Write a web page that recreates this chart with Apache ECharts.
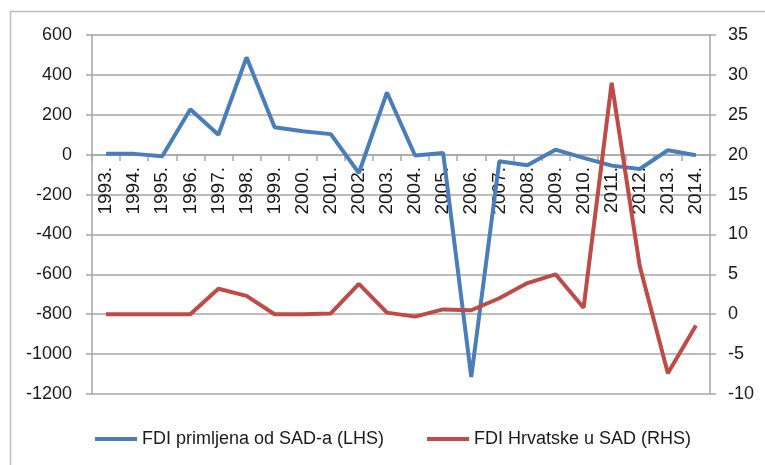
<!DOCTYPE html>
<html>
<head>
<meta charset="utf-8">
<script src="https://cdn.jsdelivr.net/npm/echarts@6/dist/echarts.min.js"></script>
<style>
  html, body { margin: 0; padding: 0; background: #fff; }
  #chart { width: 765px; height: 465px; }
</style>
</head>
<body>
<div id="chart"></div>
<script>
// data
const years = ['1993.', '1994.', '1995.', '1996.', '1997.', '1998.', '1999.', '2000.', '2001.', '2002.', '2003.',
  '2004.', '2005.', '2006.', '2007.', '2008.', '2009.', '2010.', '2011.', '2012.', '2013.', '2014.'];
const fdiFromUS = [5, 4, -8, 228, 100, 488, 137, 117, 103, -92, 312,
  -4, 8, -1115, -33, -53, 25, -16, -55, -72, 22, -3];
const fdiCroatiaToUS = [0, 0, 0, 0, 3.2, 2.3, 0, 0, 0.1, 3.8, 0.2,
  -0.3, 0.6, 0.5, 2.0, 3.9, 5.0, 0.8, 29.0, 6.0, -7.4, -1.4];
const seriesNames = ['FDI primljena od SAD-a (LHS)', 'FDI Hrvatske u SAD (RHS)'];

const font = '"Liberation Sans", Arial, sans-serif';
const textColor = '#1a1a1a';
const gridColor = '#a6a6a6';

const chart = echarts.init(document.getElementById('chart'));
chart.setOption({
  animation: false,
  textStyle: { fontFamily: font },
  graphic: [{
    type: 'rect',
    shape: { x: 10.5, y: 11.5, width: 800, height: 500 },
    style: { fill: 'none', stroke: '#bdbdbd', lineWidth: 1.5 },
    silent: true
  }],
  grid: { left: 92, right: 55, top: 35, bottom: 71 },
  legend: {
    left: 95,
    top: 430,
    padding: 0,
    itemGap: 43,
    itemWidth: 42,
    itemHeight: 4,
    icon: 'rect',
    textStyle: { fontSize: 18, color: textColor, fontFamily: font },
    data: seriesNames
  },
  xAxis: {
    type: 'category',
    data: years,
    boundaryGap: true,
    // category axis sits on the LHS zero line (9 steps of 40px, zero is 6 steps up)
    offset: -239,
    axisLine: { onZero: false, lineStyle: { color: gridColor, width: 1.5 } },
    axisTick: { show: true, interval: 0, length: 6, lineStyle: { color: gridColor, width: 1.5 } },
    axisLabel: {
      interval: 0,
      rotate: 90,
      margin: 12,
      fontSize: 19,
      color: textColor,
      fontFamily: font
    },
    splitLine: { show: false }
  },
  yAxis: [{
    type: 'value',
    min: -1200,
    max: 600,
    interval: 200,
    position: 'left',
    axisLine: { show: true, lineStyle: { color: gridColor, width: 1.5 } },
    axisTick: { show: true, length: 6, lineStyle: { color: gridColor, width: 1.5 } },
    axisLabel: { fontSize: 18, color: textColor, margin: 20, fontFamily: font, formatter: v => String(v) },
    splitLine: { show: true, lineStyle: { color: gridColor, width: 1.5 } }
  }, {
    type: 'value',
    min: -10,
    max: 35,
    interval: 5,
    position: 'right',
    axisLine: { show: true, lineStyle: { color: gridColor, width: 1.5 } },
    axisTick: { show: true, length: 6, lineStyle: { color: gridColor, width: 1.5 } },
    axisLabel: { fontSize: 18, color: textColor, margin: 18, fontFamily: font },
    splitLine: { show: false }
  }],
  series: [{
    name: seriesNames[0],
    type: 'line',
    yAxisIndex: 0,
    data: fdiFromUS,
    symbol: 'none',
    itemStyle: { color: '#4a7ebb' },
    lineStyle: { color: '#4a7ebb', width: 4 },
    z: 2
  }, {
    name: seriesNames[1],
    type: 'line',
    yAxisIndex: 1,
    data: fdiCroatiaToUS,
    symbol: 'none',
    itemStyle: { color: '#be4b48' },
    lineStyle: { color: '#be4b48', width: 4 },
    z: 3
  }]
});
</script>
</body>
</html>
